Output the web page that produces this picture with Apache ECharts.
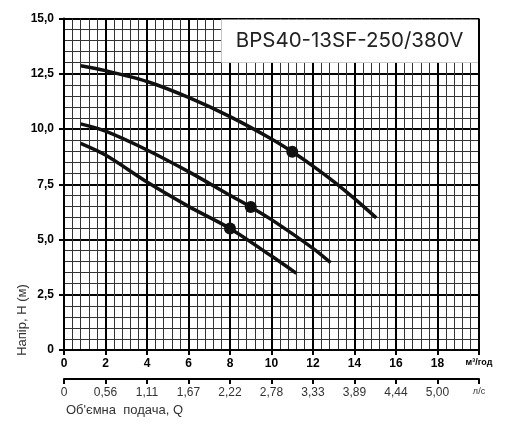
<!DOCTYPE html>
<html>
<head>
<meta charset="utf-8">
<script src="https://cdn.jsdelivr.net/npm/echarts@6/dist/echarts.min.js"></script>
<style>
  html, body { margin: 0; padding: 0; background: #fff; }
  #chart { width: 512px; height: 425px; }
</style>
</head>
<body>
<div id="chart"></div>
<script>
// напірні характеристики, Q (м³/год) -> H (м)
const curveTop = [[0.8, 12.86], [2, 12.64], [4, 12.15], [6, 11.43], [8, 10.56], [10, 9.55], [11, 8.97], [12, 8.32], [13, 7.62], [14, 6.85], [15.05, 5.98]];
const curveMid = [[0.8, 10.23], [2, 9.9], [4, 9.05], [6, 8.07], [8, 7.0], [9, 6.47], [10, 5.9], [12, 4.6], [12.85, 3.95]];
const curveLow = [[0.8, 9.35], [2, 8.82], [4, 7.6], [6, 6.5], [8, 5.5], [10, 4.25], [11.2, 3.47]];
// робочі точки
const dutyPoints = [[11, 8.97], [9, 6.47], [8, 5.5]];
// підписи другої шкали (л/с)
const lsLabels = ['0', '0,56', '1,11', '1,67', '2,22', '2,78', '3,33', '3,89', '4,44', '5,00', 'л/с'];
const modelName = 'BPS40-13SF-250/380V';

let myChart = echarts.init(document.getElementById('chart'));

const lineStyle = { color: '#111', width: 3.5 };

function curve(data) {
  return {
    type: 'line',
    data: data,
    smooth: 0.3,
    showSymbol: false,
    lineStyle: lineStyle,
    z: 5
  };
}

myChart.setOption({
  animation: false,
  grid: { left: 64, right: 33, top: 18.5, bottom: 75 },
  xAxis: [
    {
      type: 'value', min: 0, max: 20, interval: 2,
      axisLine: { show: true, lineStyle: { color: '#000', width: 2 } },
      axisTick: { show: true, length: 5, lineStyle: { color: '#000', width: 2 } },
      axisLabel: {
        margin: 8, color: '#000', fontWeight: 'bold', fontSize: 12,
        fontFamily: 'Liberation Sans',
        formatter: v => v === 20 ? '{u|м³/год}' : String(v),
        rich: { u: { fontSize: 9, fontWeight: 'bold', color: '#000', fontFamily: 'Liberation Sans' } }
      },
      splitLine: { show: true, lineStyle: { color: '#000', width: 2 } },
      minorTick: { show: false, splitNumber: 5 },
      minorSplitLine: { show: true, lineStyle: { color: '#333', width: 1 } }
    },
    {
      type: 'value', min: 0, max: 20, interval: 2, position: 'bottom', offset: 29,
      axisLine: { show: true, lineStyle: { color: '#000', width: 2 } },
      axisTick: { show: true, length: 5, lineStyle: { color: '#000', width: 2 } },
      axisLabel: {
        margin: 8, color: '#333', fontSize: 12, fontFamily: 'Liberation Sans',
        formatter: v => {
          const i = Math.round(v / 2);
          return i === 10 ? '{u|' + lsLabels[i] + '}' : lsLabels[i];
        },
        rich: { u: { fontSize: 9, color: '#333', fontFamily: 'Liberation Sans' } }
      },
      splitLine: { show: false }
    }
  ],
  yAxis: {
    type: 'value', min: 0, max: 15, interval: 2.5,
    axisLine: { show: true, lineStyle: { color: '#000', width: 2 } },
    axisTick: { show: true, length: 5, lineStyle: { color: '#000', width: 2 } },
    axisLabel: {
      margin: 10, color: '#000', fontWeight: 'bold', fontSize: 12,
      fontFamily: 'Liberation Sans',
      formatter: v => v === 0 ? '0' : v.toFixed(1).replace('.', ',')
    },
    splitLine: { show: true, lineStyle: { color: '#000', width: 2 } },
    minorTick: { show: false, splitNumber: 5 },
    minorSplitLine: { show: true, lineStyle: { color: '#333', width: 1 } }
  },
  graphic: [
    {
      type: 'text', x: 22, y: 320, rotation: Math.PI / 2,
      style: { text: 'Напір, H (м)', font: '13px "Liberation Sans"', fill: '#333', textAlign: 'center', textVerticalAlign: 'middle' }
    },
    {
      type: 'text', x: 66, y: 410,
      style: { text: "Об'ємна  подача, Q", font: '13px "Liberation Sans"', fill: '#333', textAlign: 'left', textVerticalAlign: 'middle' }
    }
  ],
  series: [
    Object.assign(curve(curveTop), {
      markArea: {
        silent: true,
        itemStyle: { color: '#fff' },
        label: {
          show: true, position: 'inside', color: '#222', fontSize: 20.5, fontFamily: 'Inter'
        },
        data: [[{ name: modelName, coord: [7.58, 13.0] }, { coord: [19.95, 14.96] }]]
      }
    }),
    curve(curveMid),
    curve(curveLow),
    {
      type: 'scatter',
      data: dutyPoints,
      symbolSize: 12,
      itemStyle: { color: '#111', opacity: 1 },
      z: 6
    }
  ]
});
</script>
</body>
</html>
